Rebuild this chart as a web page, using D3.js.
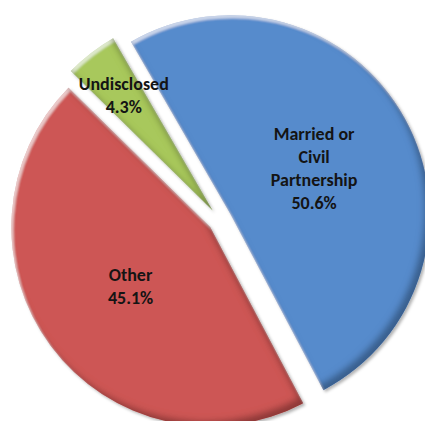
<!DOCTYPE html>
<html>
<head>
<meta charset="utf-8">
<script src="https://cdn.jsdelivr.net/npm/d3@7"></script>
<style>
  html, body { margin: 0; padding: 0; background: #fff; }
  svg { display: block; }
  .lbl { font-family: Calibri, Carlito, Lato, "Open Sans", sans-serif; font-weight: bold; fill: #141414; }
</style>
</head>
<body>
<svg id="chart" width="425" height="421"></svg>
<script>
// Marital status breakdown
const categories = ["Married or Civil Partnership", "Other", "Undisclosed"];
const values = [50.6, 45.1, 4.3];
const labelLines = [["Married or", "Civil", "Partnership", "50.6%"], ["Other", "45.1%"], ["Undisclosed", "4.3%"]];
const colors = ["#578BCC", "#CD5654", "#A8C85C"];

// Layout
const width = 425, height = 421;
const cx = 220, cy = 220;
const radius = 199;
const explode = 12;
const firstSliceAngle = 330;              // degrees, clockwise from 12 o'clock
const labelRadiusFactor = [0.48, 0.50, 0.73];
const lineHeight = 23;
const fontSize = 18;

const svg = d3.select("#chart");
const defs = svg.append("defs");

// Soft bevel: light rim on the upper-left, dark rim on the lower-right, plus a faint drop shadow
const f = defs.append("filter").attr("id", "bevel")
  .attr("x", "-10%").attr("y", "-10%").attr("width", "120%").attr("height", "120%");
f.append("feGaussianBlur").attr("in", "SourceAlpha").attr("stdDeviation", 1.2).attr("result", "bHi");
f.append("feOffset").attr("in", "bHi").attr("dx", 2).attr("dy", 2.5).attr("result", "bHiOff");
f.append("feComposite").attr("in", "SourceAlpha").attr("in2", "bHiOff").attr("operator", "out").attr("result", "hiRim");
f.append("feFlood").attr("flood-color", "#ffffff").attr("flood-opacity", 0.55).attr("result", "hiCol");
f.append("feComposite").attr("in", "hiCol").attr("in2", "hiRim").attr("operator", "in").attr("result", "hi");
f.append("feGaussianBlur").attr("in", "SourceAlpha").attr("stdDeviation", 3).attr("result", "bSh");
f.append("feOffset").attr("in", "bSh").attr("dx", -5).attr("dy", -5).attr("result", "bShOff");
f.append("feComposite").attr("in", "SourceAlpha").attr("in2", "bShOff").attr("operator", "out").attr("result", "shRim");
f.append("feFlood").attr("flood-color", "#000000").attr("flood-opacity", 0.55).attr("result", "shCol");
f.append("feComposite").attr("in", "shCol").attr("in2", "shRim").attr("operator", "in").attr("result", "sh");
f.append("feGaussianBlur").attr("in", "SourceAlpha").attr("stdDeviation", 1.5).attr("result", "ds");
f.append("feOffset").attr("in", "ds").attr("dx", 1.5).attr("dy", 1.5).attr("result", "dsOff");
f.append("feFlood").attr("flood-color", "#000000").attr("flood-opacity", 0.3).attr("result", "dsCol");
f.append("feComposite").attr("in", "dsCol").attr("in2", "dsOff").attr("operator", "in").attr("result", "drop");
const m = f.append("feMerge");
m.append("feMergeNode").attr("in", "drop");
m.append("feMergeNode").attr("in", "SourceGraphic");
m.append("feMergeNode").attr("in", "hi");
m.append("feMergeNode").attr("in", "sh");

const start = firstSliceAngle * Math.PI / 180;
const pie = d3.pie().sort(null).value(d => d).startAngle(start).endAngle(start + 2 * Math.PI);
const arcs = pie(values);
const arc = d3.arc().innerRadius(0).outerRadius(radius);

const g = svg.append("g").attr("transform", `translate(${cx},${cy})`);

const slice = g.selectAll("g.slice").data(arcs).join("g")
  .attr("class", "slice")
  .attr("transform", d => {
    const mid = (d.startAngle + d.endAngle) / 2;
    return `translate(${explode * Math.sin(mid)},${-explode * Math.cos(mid)})`;
  });

slice.append("path")
  .attr("d", arc)
  .attr("fill", (d, i) => colors[i])
  .attr("filter", "url(#bevel)");

slice.each(function (d, i) {
  const mid = (d.startAngle + d.endAngle) / 2;
  const r = radius * labelRadiusFactor[i];
  const lx = r * Math.sin(mid), ly = -r * Math.cos(mid);
  const lines = labelLines[i];
  const t = d3.select(this).append("text")
    .attr("class", "lbl")
    .attr("text-anchor", "middle")
    .attr("font-size", fontSize)
    .attr("x", lx)
    .attr("y", ly - (lines.length - 1) * lineHeight / 2 + fontSize * 0.35);
  lines.forEach((s, k) => {
    t.append("tspan").attr("x", lx).attr("dy", k === 0 ? 0 : lineHeight).text(s);
  });
});
</script>
</body>
</html>
